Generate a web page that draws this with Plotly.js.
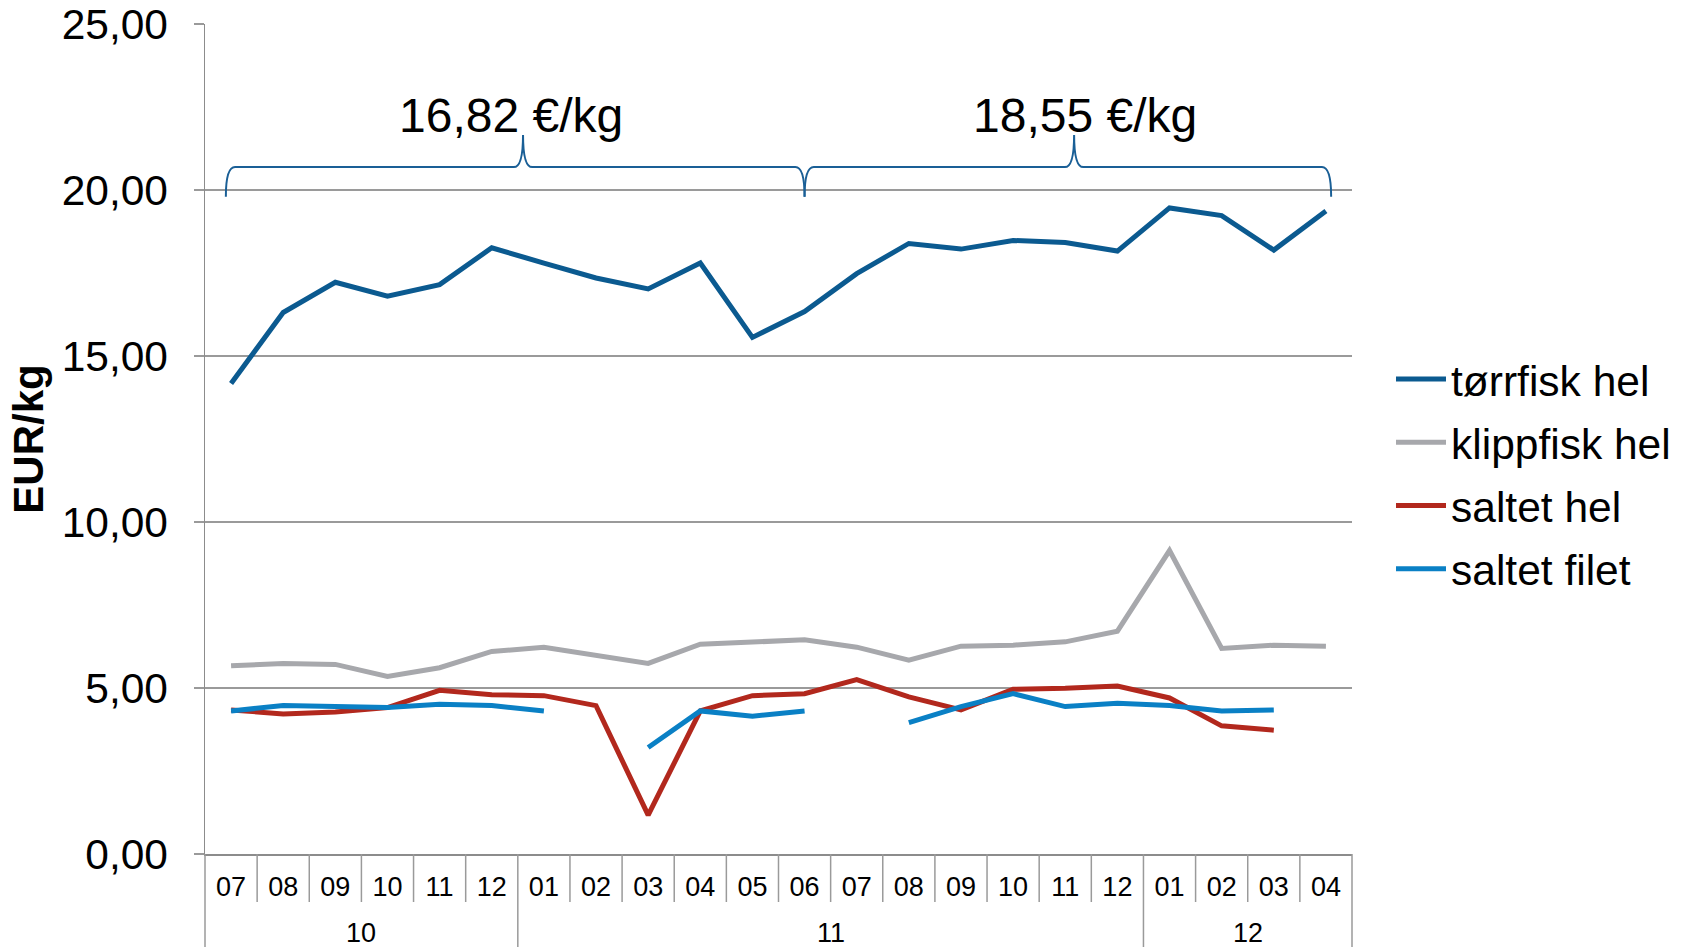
<!DOCTYPE html>
<html>
<head>
<meta charset="utf-8">
<script src="https://cdn.plot.ly/plotly-3.0.1.min.js"></script>
<style>html,body{margin:0;padding:0;background:#fff;}#chart{width:1689px;height:947px;}</style>
</head>
<body>
<div id="chart"></div>
<script>
// ---- data ----
var years  = ['10','10','10','10','10','10','11','11','11','11','11','11','11','11','11','11','11','11','12','12','12','12'];
var months = ['07','08','09','10','11','12','01','02','03','04','05','06','07','08','09','10','11','12','01','02','03','04'];

var torrfiskHel   = [14.17,16.31,17.22,16.80,17.15,18.26,17.80,17.35,17.02,17.80,15.56,16.34,17.48,18.39,18.22,18.48,18.42,18.16,19.46,19.23,18.19,19.37];
var klippfiskHel  = [5.67,5.74,5.71,5.35,5.61,6.10,6.23,6.00,5.74,6.32,6.39,6.45,6.23,5.84,6.26,6.29,6.39,6.71,9.14,6.19,6.29,6.26];
var saltetHel     = [4.34,4.22,4.28,4.41,4.93,4.80,4.77,4.47,1.17,4.31,4.77,4.83,5.25,4.73,4.34,4.96,4.99,5.06,4.70,3.86,3.73,null];
var saltetFilet   = [4.31,4.47,4.44,4.41,4.51,4.47,4.31,null,3.21,4.31,4.15,4.31,null,3.96,4.44,4.83,4.44,4.54,4.47,4.31,4.34,null];

var seriesNames  = ['tørrfisk hel','klippfisk hel','saltet hel','saltet filet'];
var seriesData   = [torrfiskHel, klippfiskHel, saltetHel, saltetFilet];
var seriesColors = ['#0b5a90','#a7a8ac','#b2281d','#0a80c5'];

var yTickVals = [0,5,10,15,20,25];
var yTickText = ['0,00','5,00','10,00','15,00','20,00','25,00'];

// period averages (bracket labels)
var periodLabels = ['16,82 €/kg','18,55 €/kg'];

// ---- bracket geometry (category index units) ----
var braceFrom = [-0.1, 11.0];
var braceTo   = [11.0, 21.1];
var braceTip  = [5.6, 16.17];
var labelPos  = [5.37, 16.38];
var yEnd = 19.8, yLine = 20.69, yTip = 21.66, yLabel = 22.25;

var N = months.length;
var keys = months.map(function(m, i){ return m + '/' + years[i]; });
function px(i){ return (i + 0.5) / N; }

var font = 'Liberation Sans, Arial, sans-serif';
var plotH = 947 - 24 - 93;

var traces = seriesData.map(function(d, k){
  return {
    type: 'scatter', mode: 'lines',
    x: keys, y: d,
    name: seriesNames[k],
    legendgroup: 'g' + k,
    line: {color: seriesColors[k], width: 5},
    connectgaps: false,
    hoverinfo: 'skip'
  };
});

var shapes = [];
var annotations = [];
for (var b = 0; b < braceFrom.length; b++) {
  var a = px(braceFrom[b]), e = px(braceTo[b]), m = px(braceTip[b]);
  var d = 0.008;
  var path = 'M' + a + ',' + yEnd +
    ' Q' + a + ',' + yLine + ' ' + (a + d) + ',' + yLine +
    ' L' + (m - d) + ',' + yLine +
    ' Q' + m + ',' + yLine + ' ' + m + ',' + yTip +
    ' Q' + m + ',' + yLine + ' ' + (m + d) + ',' + yLine +
    ' L' + (e - d) + ',' + yLine +
    ' Q' + e + ',' + yLine + ' ' + e + ',' + yEnd;
  shapes.push({type: 'path', xref: 'paper', yref: 'y', path: path,
    line: {color: '#1a5f96', width: 2}});
  annotations.push({xref: 'paper', yref: 'y', x: px(labelPos[b]), y: yLabel,
    text: periodLabels[b], showarrow: false, xanchor: 'center', yanchor: 'middle',
    font: {family: font, size: 48, color: '#000'}});
}

// category dividers below the x axis (month short, year long)
var shortDiv = -48 / plotH, longDiv = -93 / plotH;
for (var i = 0; i <= N; i++) {
  var isYear = (i === 0 || i === N || years[i] !== years[i - 1]);
  shapes.push({type: 'line', xref: 'paper', yref: 'paper',
    x0: i / N, x1: i / N, y0: 0, y1: isYear ? longDiv : shortDiv,
    line: {color: '#9a9a9a', width: 1.5}});
}
// year group labels
var start = 0;
for (var j = 1; j <= N; j++) {
  if (j === N || years[j] !== years[start]) {
    annotations.push({xref: 'paper', yref: 'paper',
      x: px((start + j - 1) / 2), y: -79 / plotH,
      text: years[start], showarrow: false, xanchor: 'center', yanchor: 'middle',
      font: {family: font, size: 27, color: '#000'}});
    start = j;
  }
}

var layout = {
  width: 1689, height: 947,
  margin: {l: 205, r: 337, t: 24, b: 93},
  paper_bgcolor: '#fff', plot_bgcolor: '#fff',
  font: {family: font, color: '#000'},
  showlegend: true,
  legend: {x: 1.034, xanchor: 'left', y: 0.458, yanchor: 'middle',
    font: {family: font, size: 42.5, color: '#000'},
    tracegroupgap: 5, itemwidth: 50, bgcolor: 'rgba(0,0,0,0)'},
  xaxis: {
    type: 'category',
    range: [-0.5, N - 0.5],
    tickvals: keys, ticktext: months,
    showgrid: false,
    showline: true, linecolor: '#8c8c8c', linewidth: 1.5,
    ticks: '',
    ticklabelstandoff: 8,
    tickfont: {family: font, size: 27, color: '#000'},
    automargin: false
  },
  yaxis: {
    range: [0, 25],
    tickvals: yTickVals, ticktext: yTickText,
    showgrid: true, gridcolor: '#9a9a9a', gridwidth: 1.5,
    showline: true, linecolor: '#8c8c8c', linewidth: 1.5,
    ticks: 'outside', ticklen: 10, tickcolor: '#9a9a9a', tickwidth: 1.5,
    tickfont: {family: font, size: 42.5, color: '#000'},
    ticklabelstandoff: 17,
    zeroline: false,
    automargin: false,
    title: {text: '<b>EUR/kg</b>', font: {family: font, size: 42, color: '#000'}, standoff: 5}
  },
  shapes: shapes,
  annotations: annotations
};

Plotly.newPlot('chart', traces, layout, {staticPlot: true, displayModeBar: false});
</script>
</body>
</html>
